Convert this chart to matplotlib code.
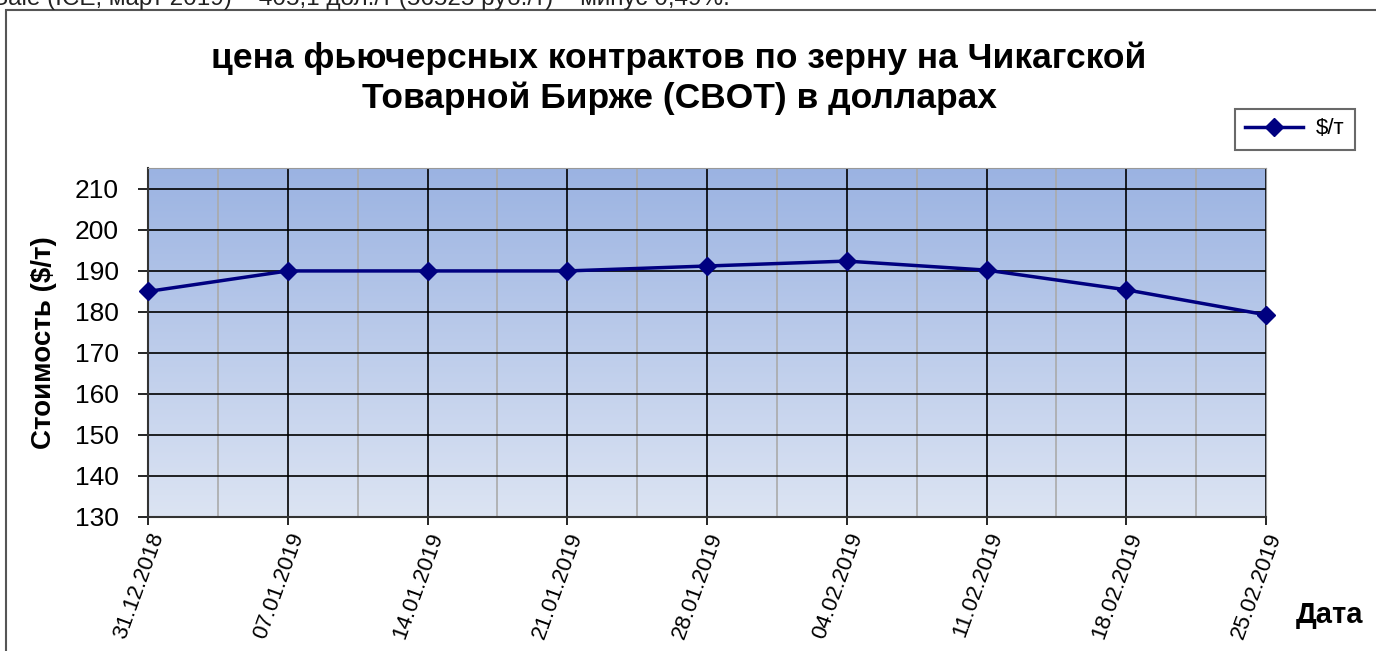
import numpy as np
import matplotlib
matplotlib.use("Agg")
import matplotlib.pyplot as plt
from matplotlib.patches import Rectangle
from matplotlib.colors import LinearSegmentedColormap

plt.rcParams['font.family'] = ['Liberation Sans', 'DejaVu Sans']

dates = ["31.12.2018", "07.01.2019", "14.01.2019", "21.01.2019", "28.01.2019",
         "04.02.2019", "11.02.2019", "18.02.2019", "25.02.2019"]
prices = [185.0, 190.0, 190.0, 190.0, 191.2, 192.4, 190.2, 185.4, 179.3]
yticks = [130, 140, 150, 160, 170, 180, 190, 200, 210]

W, H = 1376, 651
fig = plt.figure(figsize=(W / 100, H / 100), dpi=100)

# outer chart frame (extends beyond the image at right/bottom)
fig.patches.append(Rectangle((6 / W, -0.2), 1.2, (H - 10) / H + 0.2, transform=fig.transFigure,
                             fill=False, edgecolor='#555555', linewidth=1.5, zorder=0))

# clipped text fragment at the top (as in the reference)
fig.text(-8 / W, 1 - 5 / H, "Sale (ICE, март 2019) – 405,1 дол./т (56525 руб./т) – минус 0,49%.",
         ha='left', va='baseline', fontsize=17.5, color='#222222')

left, right = 148 / W, 1266 / W
bottom, top = 1 - 517 / H, 1 - 168 / H
ax = fig.add_axes([left, bottom, right - left, top - bottom])

x = np.arange(len(dates))
ax.set_xlim(0, len(dates) - 1)
ax.set_ylim(130, 215.1)

cmap = LinearSegmentedColormap.from_list('bg', ['#dce4f3', '#9bb3e2'])
grad = np.linspace(0, 1, 256).reshape(-1, 1)
ax.imshow(grad, extent=[0, 1, 0, 1], transform=ax.transAxes, cmap=cmap,
          aspect='auto', origin='lower', zorder=0)

# grid
for xm in x[:-1] + 0.5:
    ax.axvline(xm, color='#aaaaaa', linewidth=1.2, zorder=1)
for xv in x:
    ax.axvline(xv, color='black', linewidth=1.2, zorder=1)
for yv in yticks:
    ax.axhline(yv, color='black', linewidth=1.2, zorder=1)

ax.plot(x, prices, color='#000080', linewidth=2.5, marker='D', markersize=9,
        zorder=3, label='$/т', clip_on=False)

ax.set_yticks(yticks)
ax.set_yticklabels([str(v) for v in yticks], fontsize=19)
ax.set_xticks(x)
ax.set_xticklabels(dates, rotation=70, ha='right', va='top', rotation_mode='anchor',
                   fontsize=16)
ax.tick_params(axis='y', length=7, width=1.2, pad=14)
ax.tick_params(axis='x', length=6, width=1.2, pad=3)

for s in ['top', 'right']:
    ax.spines[s].set_color('#999999')
for s in ['left', 'bottom']:
    ax.spines[s].set_color('#333333')
    ax.spines[s].set_linewidth(1.5)

ax.set_ylabel('Стоимость ($/т)', fontsize=20, fontweight='bold', labelpad=2)
ax.yaxis.set_label_coords(-(148 - 57) / (1266 - 148), 0.5)
fig.text(1330 / W, 1 - 615 / H, 'Дата', ha='center', va='center', fontsize=21,
         fontweight='bold')

fig.text(679 / W, 1 - 68 / H, 'цена фьючерсных контрактов по зерну на Чикагской',
         ha='center', va='baseline', fontsize=25.5, fontweight='bold')
fig.text(679 / W, 1 - 108 / H, 'Товарной Бирже (CBOT) в долларах',
         ha='center', va='baseline', fontsize=25.5, fontweight='bold')

leg = fig.legend(loc='center', bbox_to_anchor=(1295 / W, 1 - 129 / H), fontsize=16,
                 frameon=True, fancybox=False, edgecolor='#444444', handlelength=2.6,
                 borderpad=0.45, handletextpad=0.6, borderaxespad=0)
leg.get_frame().set_linewidth(1.5)

fig.savefig('out.png', dpi=100)
